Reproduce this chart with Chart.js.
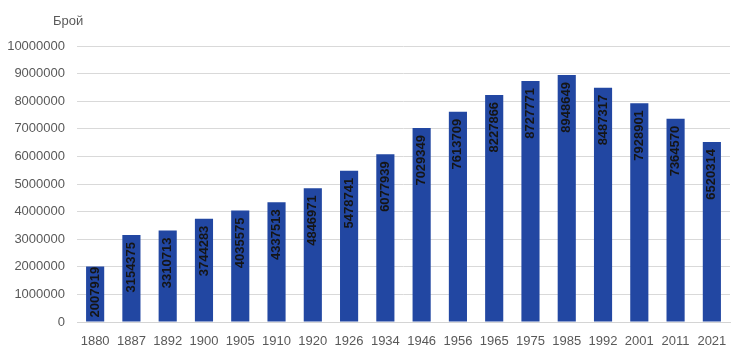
<!DOCTYPE html>
<html lang="bg">
<head>
  <meta charset="UTF-8">
  <title>Брой</title>
  <script src="https://cdn.jsdelivr.net/npm/chart.js"></script>
  <style>
    html, body { margin: 0; padding: 0; background: #fff; }
    #wrap { width: 740px; height: 360px; }
  </style>
</head>
<body>
  <div id="wrap"><canvas id="chart" width="740" height="360"></canvas></div>

  <script>
    // данни
    const years = ['1880', '1887', '1892', '1900', '1905', '1910', '1920', '1926', '1934',
                   '1946', '1956', '1965', '1975', '1985', '1992', '2001', '2011', '2021'];
    const population = [2007919, 3154375, 3310713, 3744283, 4035575, 4337513, 4846971, 5478741, 6077939,
                        7029349, 7613709, 8227866, 8727771, 8948649, 8487317, 7928901, 7364570, 6520314];
    const yMin = 0;
    const yMax = 10000000;
    const yStep = 1000000;
    const axisTitle = 'Брой';

    const FONT = '"Liberation Sans", Arial, sans-serif';

    // надписи върху стълбовете, завъртени вертикално
    const barLabels = {
      id: 'barLabels',
      afterDatasetsDraw(chart) {
        const ctx = chart.ctx;
        const meta = chart.getDatasetMeta(0);
        ctx.save();
        ctx.font = 'bold 13px ' + FONT;
        ctx.fillStyle = '#151515';
        ctx.textBaseline = 'middle';
        meta.data.forEach((bar, i) => {
          const txt = String(population[i]);
          const w = ctx.measureText(txt).width;
          const h = bar.base - bar.y;
          ctx.save();
          if (h < w + 14) {
            ctx.translate(bar.x, bar.base - 4);
            ctx.rotate(-Math.PI / 2);
            ctx.textAlign = 'left';
          } else {
            ctx.translate(bar.x, bar.y + 7);
            ctx.rotate(-Math.PI / 2);
            ctx.textAlign = 'right';
          }
          ctx.fillText(txt, 0, 0);
          ctx.restore();
        });
        ctx.restore();
      }
    };

    // "Брой" над оста
    const cornerTitle = {
      id: 'cornerTitle',
      afterDraw(chart) {
        const ctx = chart.ctx;
        const a = chart.chartArea;
        ctx.save();
        ctx.font = '13px ' + FONT;
        ctx.fillStyle = '#595959';
        ctx.textAlign = 'left';
        ctx.textBaseline = 'middle';
        ctx.fillText(axisTitle, a.left - 24, a.top - 25);
        ctx.restore();
      }
    };

    new Chart(document.getElementById('chart'), {
      type: 'bar',
      data: {
        labels: years,
        datasets: [{
          data: population,
          backgroundColor: '#2247a2',
          borderWidth: 0,
          barPercentage: 0.5,
          categoryPercentage: 1.0
        }]
      },
      options: {
        responsive: false,
        animation: false,
        layout: { padding: { top: 46, left: 6, right: 10, bottom: 8 } },
        plugins: {
          legend: { display: false },
          tooltip: { enabled: false }
        },
        scales: {
          x: {
            grid: { display: false, drawTicks: false },
            border: { display: true, color: '#d4d4d4', width: 1 },
            ticks: { color: '#595959', font: { family: FONT, size: 13 }, padding: 12, maxRotation: 0, autoSkip: false },
            afterFit(scale) { scale.height = 30; }
          },
          y: {
            min: yMin,
            max: yMax,
            grid: { color: '#d9d9d9', drawTicks: false },
            border: { display: false },
            ticks: {
              stepSize: yStep,
              color: '#595959',
              font: { family: FONT, size: 13 },
              padding: 12,
              callback: v => String(v)
            },
            afterFit(scale) { scale.width = 71; }
          }
        }
      },
      plugins: [barLabels, cornerTitle]
    });
  </script>
</body>
</html>
